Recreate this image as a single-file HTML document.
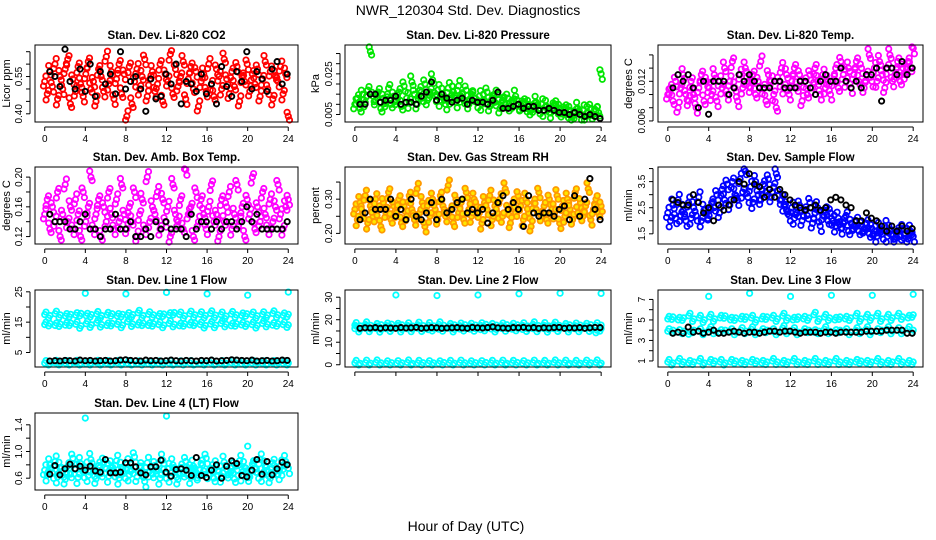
<!DOCTYPE html>
<html><head><meta charset="utf-8"><style>
html,body{margin:0;padding:0;background:#fff}
svg{display:block;font-family:"Liberation Sans",sans-serif}
</style></head><body>
<svg id="chart" width="936" height="540" viewBox="0 0 936 540">
<text x="468" y="15" font-size="14" text-anchor="middle">NWR_120304  Std. Dev. Diagnostics</text>
<text x="466" y="531" font-size="14" text-anchor="middle">Hour of Day (UTC)</text>
</svg>
<script>
const xTicks=[0,4,8,12,16,20,24];
const outlierHours=[4,8,12,16,20,24];
const co2Red=[0.53,0.48,0.57,0.51,0.60,0.46,0.55,0.50,0.58,0.62,0.44,0.54,0.49,0.59,0.52,0.47,0.56,0.61,0.50,0.53,0.45,0.58,0.55,0.49,0.63,0.52,0.57,0.46,0.54,0.60,0.48,0.56,0.39,0.59,0.44,0.53,0.58,0.50,0.55,0.62,0.47,0.54,0.57,0.49,0.52,0.60,0.45,0.56,0.53,0.64,0.48,0.58,0.51,0.55,0.61,0.46,0.54,0.59,0.50,0.57,0.43,0.53,0.56,0.49,0.60,0.52,0.47,0.58,0.55,0.50,0.62,0.54,0.48,0.57,0.51,0.59,0.45,0.55,0.53,0.60,0.49,0.56,0.52,0.58,0.47,0.54,0.61,0.50,0.57,0.46,0.55,0.53,0.59,0.48,0.56,0.39];
const co2Black=[0.57,0.55,0.51,0.66,0.53,0.50,0.58,0.49,0.60,0.47,0.57,0.52,0.56,0.48,0.65,0.50,0.53,0.55,0.50,0.41,0.54,0.46,0.47,0.56,0.52,0.60,0.44,0.53,0.52,0.49,0.56,0.48,0.52,0.44,0.59,0.51,0.47,0.57,0.53,0.65,0.50,0.57,0.54,0.49,0.58,0.61,0.52,0.56];
const presGreen=[0.010,0.013,0.008,0.015,0.011,0.017,0.036,0.014,0.012,0.016,0.008,0.013,0.011,0.018,0.010,0.014,0.012,0.016,0.009,0.019,0.013,0.011,0.021,0.015,0.010,0.017,0.013,0.020,0.012,0.016,0.022,0.014,0.017,0.012,0.015,0.010,0.018,0.013,0.016,0.011,0.019,0.014,0.012,0.017,0.010,0.015,0.013,0.011,0.014,0.010,0.012,0.016,0.009,0.013,0.011,0.015,0.008,0.012,0.010,0.013,0.009,0.011,0.014,0.010,0.009,0.011,0.008,0.010,0.007,0.009,0.011,0.008,0.010,0.007,0.009,0.006,0.008,0.010,0.007,0.008,0.006,0.008,0.005,0.007,0.004,0.006,0.008,0.005,0.007,0.004,0.006,0.008,0.005,0.007,0.006,0.025];
const presBlack=[0.010,0.010,0.015,0.015,0.011,0.012,0.012,0.014,0.010,0.011,0.011,0.010,0.014,0.016,0.021,0.012,0.015,0.013,0.011,0.012,0.013,0.010,0.012,0.011,0.011,0.010,0.012,0.016,0.008,0.008,0.009,0.010,0.008,0.009,0.009,0.007,0.007,0.008,0.007,0.006,0.006,0.005,0.006,0.005,0.004,0.005,0.004,0.003];
const tempMag=[0.010,0.011,0.009,0.012,0.008,0.011,0.013,0.010,0.009,0.012,0.010,0.008,0.011,0.013,0.009,0.012,0.011,0.010,0.013,0.009,0.012,0.011,0.014,0.010,0.012,0.015,0.011,0.009,0.013,0.011,0.014,0.012,0.011,0.013,0.010,0.012,0.015,0.011,0.009,0.013,0.012,0.010,0.008,0.012,0.014,0.011,0.013,0.010,0.012,0.014,0.011,0.013,0.009,0.012,0.010,0.013,0.011,0.014,0.012,0.010,0.013,0.011,0.012,0.010,0.012,0.014,0.011,0.015,0.013,0.012,0.014,0.011,0.013,0.015,0.012,0.014,0.011,0.013,0.016,0.012,0.014,0.012,0.015,0.013,0.011,0.014,0.016,0.012,0.013,0.015,0.012,0.014,0.013,0.015,0.014,0.017];
const tempBlack=[0.011,0.013,0.012,0.013,0.011,0.008,0.012,0.007,0.012,0.012,0.012,0.010,0.011,0.013,0.012,0.013,0.012,0.011,0.011,0.011,0.012,0.012,0.011,0.011,0.011,0.012,0.012,0.011,0.010,0.012,0.013,0.012,0.012,0.014,0.012,0.011,0.012,0.011,0.013,0.013,0.014,0.009,0.014,0.014,0.013,0.015,0.013,0.014];
const ambMag=[0.15,0.17,0.13,0.16,0.14,0.18,0.12,0.15,0.19,0.14,0.16,0.13,0.17,0.15,0.12,0.18,0.14,0.16,0.20,0.13,0.15,0.17,0.12,0.16,0.14,0.18,0.15,0.13,0.17,0.14,0.19,0.15,0.13,0.16,0.14,0.18,0.12,0.15,0.17,0.13,0.20,0.14,0.16,0.15,0.18,0.13,0.17,0.14,0.16,0.12,0.19,0.15,0.14,0.17,0.13,0.21,0.15,0.16,0.12,0.18,0.14,0.17,0.15,0.13,0.16,0.19,0.14,0.15,0.12,0.17,0.14,0.16,0.18,0.13,0.15,0.19,0.14,0.16,0.12,0.17,0.15,0.20,0.13,0.16,0.14,0.18,0.15,0.13,0.17,0.14,0.16,0.19,0.15,0.13,0.16,0.17];
const ambBlack=[0.15,0.14,0.14,0.14,0.13,0.13,0.14,0.15,0.13,0.13,0.12,0.13,0.13,0.15,0.13,0.13,0.14,0.12,0.12,0.13,0.12,0.14,0.13,0.14,0.13,0.13,0.13,0.12,0.15,0.13,0.14,0.14,0.13,0.14,0.13,0.14,0.14,0.13,0.14,0.16,0.14,0.15,0.13,0.13,0.13,0.13,0.13,0.14];
const rhOrange=[0.27,0.24,0.29,0.26,0.31,0.23,0.28,0.25,0.30,0.27,0.22,0.29,0.26,0.32,0.24,0.28,0.26,0.30,0.23,0.28,0.25,0.31,0.27,0.24,0.33,0.26,0.29,0.22,0.28,0.25,0.30,0.27,0.24,0.31,0.28,0.25,0.34,0.27,0.23,0.30,0.26,0.29,0.24,0.32,0.27,0.25,0.30,0.28,0.26,0.23,0.29,0.27,0.31,0.24,0.28,0.26,0.30,0.25,0.33,0.27,0.23,0.29,0.26,0.31,0.28,0.24,0.30,0.26,0.22,0.29,0.27,0.32,0.25,0.28,0.24,0.30,0.27,0.26,0.31,0.23,0.28,0.25,0.30,0.27,0.24,0.32,0.26,0.29,0.25,0.28,0.33,0.24,0.27,0.30,0.26,0.28];
const rhBlack=[0.24,0.26,0.30,0.27,0.27,0.27,0.30,0.25,0.27,0.24,0.30,0.25,0.24,0.26,0.29,0.24,0.30,0.26,0.27,0.29,0.30,0.26,0.27,0.26,0.27,0.23,0.26,0.29,0.31,0.27,0.29,0.27,0.22,0.31,0.26,0.25,0.26,0.26,0.25,0.27,0.28,0.24,0.31,0.25,0.30,0.36,0.27,0.24];
const flowBlue=[2.3,2.0,2.6,2.1,2.8,2.2,2.4,2.0,2.7,2.1,2.5,2.2,2.9,2.0,2.4,2.3,2.2,2.7,2.5,3.0,2.3,3.2,2.8,3.4,2.6,3.5,3.0,2.8,3.6,3.1,3.9,2.9,3.3,2.7,3.5,3.0,2.8,3.4,3.1,3.6,2.9,3.3,3.8,3.0,2.8,2.6,2.4,2.2,2.5,2.1,2.3,2.6,2.0,2.4,2.2,2.7,1.9,2.3,2.5,1.8,2.2,2.4,2.0,2.3,2.0,1.8,2.1,1.7,1.9,2.2,1.6,1.9,1.8,2.0,1.6,1.8,1.7,1.9,1.5,1.7,1.6,1.4,1.7,1.5,1.8,1.4,1.6,1.5,1.3,1.6,1.4,1.7,1.5,1.3,1.6,1.4];
const flowBlack=[2.8,2.7,2.6,2.6,3.0,2.7,2.3,2.5,2.0,2.6,2.4,2.6,2.8,3.5,3.4,3.8,3.4,3.3,2.9,3.2,2.9,3.2,3.0,2.8,2.6,2.5,2.4,2.5,2.6,2.4,2.5,2.8,2.9,2.8,2.6,2.5,2.0,2.0,2.3,2.1,2.0,1.8,1.6,1.8,1.6,1.8,1.6,1.7];
const l1Hi=[17.5,17.2,17.8,17.4,17.0,17.6,17.3,17.9,17.1,17.5,17.7,17.2,17.4,17.8,17.0,17.6,17.3,17.5,18.1,17.2,17.6,17.4,17.0,17.7,17.3,18.2,17.5,17.1,17.8,17.4,17.6,17.2,17.9,17.3,17.5,17.0,17.7,17.4,17.2,17.8,17.5,17.1,17.6,17.3,17.9,17.4,17.2,17.6];
const l1Mid=[14.2,14.6,13.9,14.4,14.0,14.7,14.3,13.8,14.5,14.1,14.8,14.2,13.9,14.6,14.3,14.0,15.2,14.4,14.1,14.7,13.9,14.5,14.2,14.0,14.6,14.3,13.8,14.5,14.1,14.7,14.2,13.9,14.4,14.0,14.6,14.3,13.8,14.5,14.1,14.4,14.2,13.9,14.6,14.3,14.0,14.5,14.2,14.1];
const l1Low=[1.5,1.3,1.6,1.4,1.5,1.2,1.6,1.4,1.3,1.5,1.6,1.4,1.5,1.3,1.6,1.4,1.5,1.2,1.4,1.6,1.3,1.5,1.4,1.6,1.5,1.3,1.4,1.6,1.5,1.2,1.4,1.5,1.6,1.3,1.5,1.4,1.6,1.5,1.3,1.4,1.5,1.6,1.4,1.3,1.5,1.6,1.4,1.5];
const l1Black=[2.2,2.3,2.2,2.4,2.3,2.2,2.5,2.3,2.4,2.2,2.3,2.4,2.2,2.3,2.5,2.6,2.4,2.3,2.2,2.5,2.3,2.4,2.2,2.3,2.5,2.3,2.2,2.4,2.3,2.2,2.4,2.3,2.5,2.2,2.3,2.4,2.6,2.5,2.4,2.3,2.5,2.2,2.3,2.4,2.2,2.3,2.5,2.4];
const l1Out=[24.5,24.3,24.8,24.3,23.9,24.9];
const l2A=[17.6,17.3,17.9,17.5,17.2,17.8,17.4,18.0,17.3,17.7,17.5,17.2,17.8,17.4,17.6,17.3,17.9,17.5,17.2,17.7,17.4,17.8,17.3,17.6,17.5,17.9,17.2,17.6,17.4,17.8,17.3,17.7,17.5,17.2,17.9,17.4,17.6,17.3,17.8,17.5,17.2,17.7,17.4,17.6,17.3,17.8,17.5,17.6];
const l2B=[16.0,15.7,16.2,15.8,16.1,15.6,16.0,15.9,16.3,15.7,16.0,15.8,16.2,15.9,15.6,16.1,15.8,16.0,16.2,15.7,15.9,16.1,15.8,16.0,15.6,16.2,15.9,15.7,16.1,16.0,15.8,16.2,15.7,15.9,16.0,15.8,16.1,15.6,16.0,15.9,16.2,15.7,16.0,15.8,16.1,15.9,14.2,16.0];
const l2Low=[0.8,0.6,0.9,0.7,1.0,0.8,0.6,0.9,0.7,0.8,1.0,0.6,0.8,0.9,0.7,0.8,0.6,1.0,0.8,0.7,0.9,0.8,0.6,0.9,0.7,1.0,0.8,0.7,0.9,0.6,0.8,1.0,0.7,0.8,0.9,0.6,0.8,0.7,1.0,0.8,0.9,0.6,0.8,0.7,0.9,0.8,1.0,0.7];
const l2Black=[16.2,16.4,16.3,16.5,16.2,16.4,16.3,16.2,16.5,16.3,16.4,16.6,16.2,16.3,16.5,16.4,16.2,16.3,16.4,16.5,16.3,16.2,16.6,16.4,16.3,16.5,16.8,16.4,16.3,16.2,16.5,16.4,16.6,16.3,16.5,16.2,16.4,16.3,16.5,16.6,16.2,16.4,16.3,16.5,16.2,16.4,16.6,16.5];
const l2Out=[31.0,30.7,31.0,31.5,31.8,31.7];
const l3Hi=[5.1,5.3,5.0,5.2,5.4,5.1,5.2,5.0,5.3,5.1,5.2,5.4,5.0,5.2,5.1,5.3,5.2,5.0,5.1,5.3,5.2,5.1,5.4,5.2,5.0,5.3,5.1,5.2,5.5,5.1,5.3,5.2,5.0,5.3,5.1,5.2,5.4,5.1,5.3,5.2,5.4,5.1,5.3,5.2,5.4,5.3,5.2,5.5];
const l3Mid=[3.9,4.0,3.8,3.9,3.6,4.0,3.9,3.8,4.1,3.9,3.8,4.0,3.9,3.8,4.0,3.9,4.1,3.8,3.9,4.0,3.9,3.8,4.2,3.9,4.0,3.8,3.9,4.0,3.8,3.9,4.1,3.9,3.8,4.0,3.9,3.8,4.0,3.9,4.1,3.8,3.9,4.0,4.1,3.9,4.0,3.9,4.1,4.0];
const l3Low=[0.9,0.8,1.0,0.9,0.8,0.9,1.0,0.8,0.9,1.0,0.9,0.8,0.9,1.0,0.8,0.9,0.9,1.0,0.8,0.9,1.0,0.9,0.8,0.9,1.0,0.9,0.8,0.9,1.0,0.9,0.8,0.9,1.0,0.9,0.8,0.9,0.9,1.0,0.8,0.9,1.0,0.9,0.8,0.9,1.0,0.9,0.8,0.9];
const l3Black=[3.7,3.8,3.7,4.3,3.8,3.9,3.7,3.8,4.0,3.7,3.7,3.8,3.9,3.8,3.7,3.8,3.8,3.7,3.8,3.9,3.9,3.8,3.9,3.9,3.8,3.7,3.8,3.8,3.8,3.7,3.8,3.8,3.7,3.8,3.8,3.8,3.8,3.8,3.9,3.9,3.9,3.9,4.0,4.0,4.0,4.0,3.7,3.7];
const l3Out=[7.3,7.6,7.3,7.4,7.4,7.5];
const l4Cyan=[0.72,0.65,0.80,0.68,0.85,0.62,0.75,0.70,0.58,0.78,0.66,0.90,0.73,0.61,0.82,0.69,0.76,0.64,0.88,0.71,0.59,0.79,0.67,0.84,0.74,0.63,0.77,0.70,0.86,0.60,0.75,0.68,0.81,0.65,0.72,0.92,0.62,0.78,0.69,0.55,0.83,0.71,0.66,0.79,0.73,0.60,0.87,0.68,0.74,0.63,0.80,0.70,0.58,0.76,0.67,0.85,0.72,0.61,0.78,0.69,0.64,0.82,0.71,0.90,0.66,0.75,0.60,0.80,0.70,0.63,0.84,0.73,0.67,0.78,0.59,0.72,0.86,0.65,0.76,0.69,0.62,0.81,0.74,0.68,0.88,0.64,0.77,0.71,0.60,0.83,0.70,0.66,0.79,0.73,0.85,0.75];
const l4Black=[0.66,0.79,0.65,0.74,0.81,0.74,0.78,0.72,0.78,0.71,0.69,0.88,0.68,0.68,0.69,0.83,0.83,0.77,0.68,0.65,0.77,0.77,0.87,0.69,0.63,0.73,0.74,0.72,0.64,0.91,0.64,0.61,0.72,0.80,0.60,0.78,0.86,0.82,0.64,0.62,0.72,0.88,0.66,0.85,0.65,0.74,0.84,0.80];
const l4Out=[1.50,null,1.53,null,1.08,null];

const NS='http://www.w3.org/2000/svg';
const svg=document.getElementById('chart');
const cols=[[35,263],[345,266],[658,265]];
const rowTop=[45,167,290,413];
const H=77;
// marker cluster offsets in px (visual style to mimic dense clouds), cycled by index
const clusterSets=[
 [[0,0],[-1.2,4.5],[1.2,-5.5]],
 [[0,0],[1.2,-3.5],[-1.2,6]],
 [[0,0],[-1.2,-6],[1.2,3.5]],
 [[0,0],[1.2,5.5],[-1.2,-4]]
];
const bandSets=[[[0,0],[1.3,-2.5]],[[0,0],[-1.3,2.5]]];
function mk(tag,attrs,parent){const e=document.createElementNS(NS,tag);for(const k in attrs)e.setAttribute(k,attrs[k]);(parent||svg).appendChild(e);return e;}

const panels=[
 {key:'co2',title:'Stan. Dev. Li-820 CO2',ylab:'Licor ppm',c:0,r:0,ymin:0.367,ymax:0.677,ticks:[0.40,0.45,0.50,0.55,0.60,0.65],labels:['0.40','0.55'],
  series:[{d:co2Red,col:'#ff0000'},{d:co2Black,col:'#000',black:true}]},
 {key:'pressure',title:'Stan. Dev. Li-820 Pressure',ylab:'kPa',c:1,r:0,ymin:0.0013,ymax:0.0392,ticks:[0.005,0.010,0.015,0.020,0.025,0.030,0.035],labels:['0.005','0.025'],
  series:[{d:presGreen,col:'#00e600'},{d:presBlack,col:'#000',black:true}]},
 {key:'temp',title:'Stan. Dev. Li-820 Temp.',ylab:'degrees C',c:2,r:0,ymin:0.00584,ymax:0.0175,ticks:[0.006,0.008,0.010,0.012,0.014,0.016],labels:['0.006','0.012'],
  series:[{d:tempMag,col:'#ff00ff'},{d:tempBlack,col:'#000',black:true}]},
 {key:'ambbox',title:'Stan. Dev. Amb. Box Temp.',ylab:'degrees C',c:0,r:1,ymin:0.11,ymax:0.2136,ticks:[0.12,0.14,0.16,0.18,0.20],labels:['0.12','0.16','0.20'],
  series:[{d:ambMag,col:'#ff00ff'},{d:ambBlack,col:'#000',black:true}]},
 {key:'rh',title:'Stan. Dev. Gas Stream RH',ylab:'percent',c:1,r:1,ymin:0.169,ymax:0.394,ticks:[0.20,0.25,0.30,0.35],labels:['0.20','0.30'],
  series:[{d:rhOrange,col:'#ff9900',fill:'#ffe600'},{d:rhBlack,col:'#000',black:true}]},
 {key:'sampleflow',title:'Stan. Dev. Sample Flow',ylab:'ml/min',c:2,r:1,ymin:1.11,ymax:4.06,ticks:[1.5,2.0,2.5,3.0,3.5,4.0],labels:['1.5','2.5','3.5'],
  series:[{d:flowBlue,col:'#0000ff'},{d:flowBlack,col:'#000',black:true}]},
 {key:'line1',title:'Stan. Dev. Line 1 Flow',ylab:'ml/min',c:0,r:2,ymin:0.22,ymax:25.6,ticks:[5,10,15,20,25],labels:['5','15','25'],
  series:[{d:l1Hi,col:'#00ffff',band:true},{d:l1Mid,col:'#00ffff',band:true},{d:l1Low,col:'#00ffff',band:true},{d:l1Black,col:'#000',black:true},{d:l1Out,col:'#00ffff',out:true}]},
 {key:'line2',title:'Stan. Dev. Line 2 Flow',ylab:'ml/min',c:1,r:2,ymin:-1,ymax:33.2,ticks:[0,5,10,15,20,25,30],labels:['0','10','20','30'],
  series:[{d:l2A,col:'#00ffff',band:true},{d:l2B,col:'#00ffff',band:true},{d:l2Low,col:'#00ffff',band:true},{d:l2Black,col:'#000',black:true},{d:l2Out,col:'#00ffff',out:true}]},
 {key:'line3',title:'Stan. Dev. Line 3 Flow',ylab:'ml/min',c:2,r:2,ymin:0.41,ymax:7.92,ticks:[1,2,3,4,5,6,7],labels:['1','3','5','7'],
  series:[{d:l3Hi,col:'#00ffff',band:true},{d:l3Mid,col:'#00ffff',band:true},{d:l3Low,col:'#00ffff',band:true},{d:l3Black,col:'#000',black:true},{d:l3Out,col:'#00ffff',out:true}]},
 {key:'line4',title:'Stan. Dev. Line 4 (LT) Flow',ylab:'ml/min',c:0,r:3,ymin:0.423,ymax:1.577,ticks:[0.6,0.8,1.0,1.2,1.4],labels:['0.6','1.0','1.4'],
  series:[{d:l4Cyan,col:'#00ffff'},{d:l4Black,col:'#000',black:true},{d:l4Out,col:'#00ffff',out:true}]}
];

panels.forEach(p=>{
  const L=cols[p.c][0],W=cols[p.c][1],T=rowTop[p.r],B=T+H;
  const sx=v=>L+(v+0.96)/25.92*W;
  const sy=v=>B-(v-p.ymin)/(p.ymax-p.ymin)*H;
  const g=mk('g',{});
  
  
  const t=mk('text',{x:L+W/2,y:T-6,'font-size':11.5,'font-weight':'bold','text-anchor':'middle'},g);
  t.textContent=p.title;
  
  
  const yl=mk('text',{x:0,y:0,'font-size':11,'text-anchor':'middle',transform:`translate(${p.c===0?10:L-26},${T+H/2}) rotate(-90)`},g);
  yl.textContent=p.ylab;
  
  
  const pg=mk('g',{},g);
  
  
  p.series.forEach(s=>{
    const n=s.d.length;
    s.d.forEach((v,i)=>{
      if(v===null) return;
      let h;
      if(s.out) h=outlierHours[i];
      else if(s.black) h=0.5+i*23.4/(n-1);
      else h=i*24/(n-1);
      const cx=sx(h),cy=sy(v);
      let offs=[[0,0]];
      if(!s.black&&!s.out) offs=s.band?bandSets[i%2]:clusterSets[i%4];
      offs.forEach(o=>{
        const c=mk('circle',{cx:(cx+o[0]).toFixed(1),cy:Math.max(T+2,Math.min(B-2,cy+o[1])).toFixed(1),r:s.black?2.6:2.7,fill:s.fill||'none',stroke:s.col,'stroke-width':s.black?1.9:1.8},pg);
        
        
      });
    });
  });
  const bx=mk('rect',{x:L,y:T,width:W,height:H,fill:'none',stroke:'#000','stroke-width':1},g);
  
  
  const xa=mk('g',{},g);
  
  
  const ay=B+5;
  mk('line',{x1:sx(0),x2:sx(24),y1:ay,y2:ay,stroke:'#000'},xa);
  xTicks.forEach(v=>{
    mk('line',{x1:sx(v),x2:sx(v),y1:ay,y2:ay+4,stroke:'#000'},xa);
    if(p.key!=='line2'){
      const tl=mk('text',{x:sx(v),y:ay+15,'font-size':10,'text-anchor':'middle'},xa);
      tl.textContent=v;
    }
  });
  const ya=mk('g',{},g);
  
  
  const ax=L-5;
  mk('line',{x1:ax,x2:ax,y1:sy(p.ticks[0]),y2:sy(p.ticks[p.ticks.length-1]),stroke:'#000'},ya);
  p.ticks.forEach(v=>{
    mk('line',{x1:ax-4,x2:ax,y1:sy(v),y2:sy(v),stroke:'#000'},ya);
  });
  p.labels.forEach(lbl=>{
    const v=parseFloat(lbl);
    const tl=mk('text',{x:0,y:0,'font-size':10,'text-anchor':'middle',transform:`translate(${ax-8},${sy(v)}) rotate(-90)`},ya);
    tl.textContent=lbl;
  });
});
</script>
</body></html>
